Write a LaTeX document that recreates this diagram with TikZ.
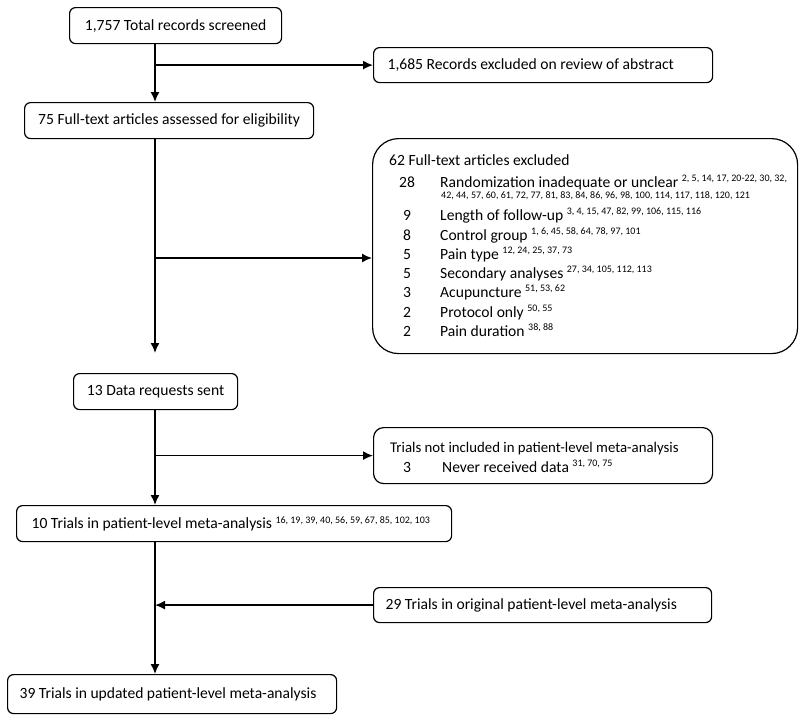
\documentclass[tikz,border=0pt]{standalone}
\usepackage{fontspec}
\setmainfont{Carlito}
\usetikzlibrary{arrows.meta,positioning,calc}
\newcommand{\refs}[1]{\textsuperscript{\fontsize{10}{12}\selectfont #1}}
\newcommand{\reflist}[1]{{\fontsize{10}{12}\selectfont #1}}

\begin{document}
\begin{tikzpicture}[x=1pt,y=-1pt,font=\fontsize{15.6}{19}\selectfont,
  box/.style={draw,line width=1.2pt,rounded corners=6pt,anchor=north west,
    inner xsep=0pt,inner ysep=0pt,minimum height=36pt},
  lbox/.style={box,inner xsep=13pt},
  txt/.style={inner sep=0pt,anchor=base west},
  num/.style={inner sep=0pt,anchor=base},
  link/.style={line width=1.5pt},
  arr/.style={link,-{Latex[length=10pt,width=9pt]}}]
  \useasboundingbox (0,0) rectangle (800,720);
  \coordinate (spine) at (155,0);

  % boxes on the main line
  \node[box,minimum width=212pt] (screened) at (69,7) {1,757 Total records screened};
  \node[box,minimum width=289pt] (assessed) at (24,102) {75 Full-text articles assessed for eligibility};
  \node[box,minimum width=164pt] (requests) at (73,373) {13 Data requests sent};
  \node[lbox,inner xsep=15pt] (trials) at (16,505) {\makebox[405pt][l]{10 Trials in patient-level meta-analysis \refs{16, 19, 39, 40, 56, 59, 67, 85, 102, 103}}};
  \node[lbox,inner xsep=12pt,minimum height=39pt] (updated) at (7,674) {\makebox[305pt][l]{39 Trials in updated patient-level meta-analysis}};

  % boxes on the right
  \node[lbox,inner xsep=14pt,minimum height=35pt] (abstract) at (373,47) {\makebox[311pt][l]{1,685 Records excluded on review of abstract}};
  \node[lbox,inner xsep=12pt,minimum height=35pt] (original) at (373,587) {\makebox[314pt][l]{29 Trials in original patient-level meta-analysis}};
  \node[box,rounded corners=26pt,minimum width=425pt,minimum height=215pt] (excluded) at (372,138) {};
  \node[box,rounded corners=10pt,minimum width=339pt,minimum height=56pt] (notincl) at (373,427) {};

  % excluded full texts
  \node[txt] (exhead) at (389,165) {62 Full-text articles excluded};
  \node[num] (n1) at (407,187) {28};
  \node[txt] (r1) at (440,187) {Randomization inadequate or unclear \refs{2, 5, 14, 17, 20-22, 30, 32,}};
  \node[txt] (r1b) at (441,198) {\reflist{42, 44, 57, 60, 61, 72, 77, 81, 83, 84, 86, 96, 98, 100, 114, 117, 118, 120, 121}};
  \node[num] (n2) at (407,220) {9};
  \node[txt] (r2) at (440,220) {Length of follow-up \refs{3, 4, 15, 47, 82, 99, 106, 115, 116}};
  \node[num] (n3) at (407,240) {8};
  \node[txt] (r3) at (440,240) {Control group \refs{1, 6, 45, 58, 64, 78, 97, 101}};
  \node[num] (n4) at (407,259) {5};
  \node[txt] (r4) at (440,259) {Pain type \refs{12, 24, 25, 37, 73}};
  \node[num] (n5) at (407,278) {5};
  \node[txt] (r5) at (440,278) {Secondary analyses \refs{27, 34, 105, 112, 113}};
  \node[num] (n6) at (407,297) {3};
  \node[txt] (r6) at (440,297) {Acupuncture \refs{51, 53, 62}};
  \node[num] (n7) at (407,317) {2};
  \node[txt] (r7) at (440,317) {Protocol only \refs{50, 55}};
  \node[num] (n8) at (407,336) {2};
  \node[txt] (r8) at (440,336) {Pain duration \refs{38, 88}};

  % trials not included
  \node[txt,font=\fontsize{14.8}{18}\selectfont] (nihead) at (390,452) {Trials not included in patient-level meta-analysis};
  \node[num] (ni1) at (407,472) {3};
  \node[txt] (nr1) at (442,472) {Never received data \refs{31, 70, 75}};

  % connectors
  \coordinate (fork) at (155,258);
  \draw[arr] (screened.south -| spine) -- (assessed.north -| spine);
  \draw[arr] (abstract.west -| spine) -- (abstract.west);
  \draw[arr,shorten >=20pt] (assessed.south -| spine) -- (requests.north -| spine);
  \draw[arr] (fork) -- (fork -| excluded.west);
  \draw[arr] (requests.south -| spine) -- (trials.north -| spine);
  \draw[arr] (notincl.west -| spine) -- (notincl.west);
  \draw[arr] (trials.south -| spine) -- (updated.north -| spine);
  \draw[arr] (original.west) -- (original.west -| spine);
\end{tikzpicture}
\end{document}
